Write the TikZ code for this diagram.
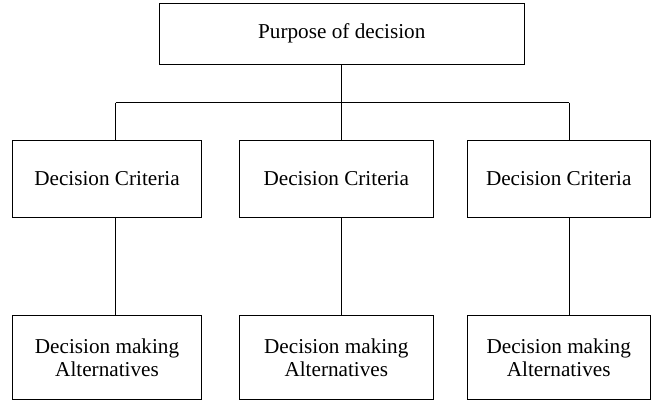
\documentclass[tikz,border=0pt]{standalone}
\usepackage{fontspec}
\setmainfont{Liberation Serif}
\begin{document}
\begin{tikzpicture}[x=1pt,y=-1pt,
  box/.style={draw,line width=1pt,rectangle,inner sep=0pt,align=center,
    font=\fontsize{21.2}{22.7}\selectfont},
  conn/.style={line width=1pt}]
\useasboundingbox (0,0) rectangle (652,400);
\node[box,minimum width=365pt,minimum height=60.7pt] (top) at (341.8,33.7) {Purpose of decision};
\node[box,minimum width=189.4pt,minimum height=77pt] (c1) at (107,178.8) {Decision Criteria};
\node[box,minimum width=194pt,minimum height=77pt] (c2) at (336.3,178.8) {Decision Criteria};
\node[box,minimum width=182.7pt,minimum height=77pt] (c3) at (558.7,178.8) {Decision Criteria};
\node[box,minimum width=189.4pt,minimum height=83.3pt] (a1) at (107,357.4) {Decision making\\Alternatives};
\node[box,minimum width=194pt,minimum height=83.3pt] (a2) at (336.3,357.4) {Decision making\\Alternatives};
\node[box,minimum width=182.7pt,minimum height=83.3pt] (a3) at (558.7,357.4) {Decision making\\Alternatives};
\coordinate (h1) at (115.7,102.7);
\coordinate (h2) at (341.3,102.7);
\coordinate (h3) at (569.3,102.7);
\draw[conn] (top.south -| h2) -- (h2);
\draw[conn] (h1) -- (h3);
\draw[conn] (h1) -- (h1 |- c1.north);
\draw[conn] (h2) -- (h2 |- c2.north);
\draw[conn] (h3) -- (h3 |- c3.north);
\draw[conn] (h1 |- c1.south) -- (h1 |- a1.north);
\draw[conn] (h2 |- c2.south) -- (h2 |- a2.north);
\draw[conn] (h3 |- c3.south) -- (h3 |- a3.north);
\end{tikzpicture}
\end{document}
